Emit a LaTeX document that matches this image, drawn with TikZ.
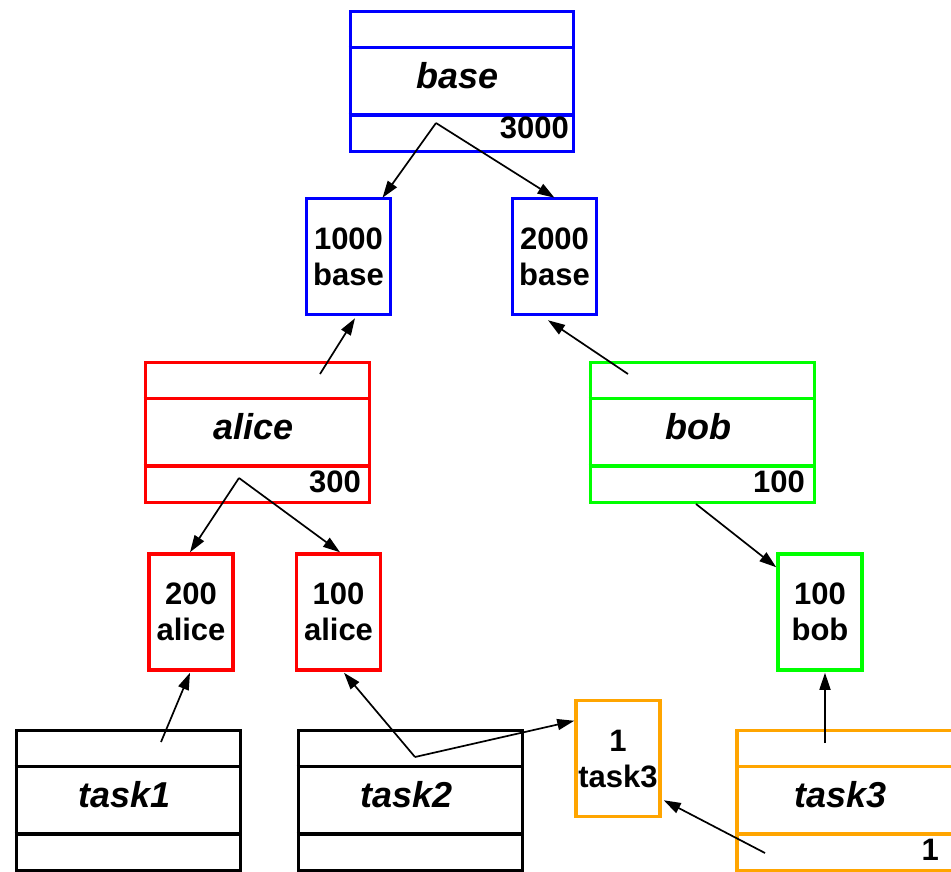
\documentclass[tikz,border=0pt]{standalone}
\usepackage{fontspec}
\setmainfont{Liberation Sans}
\usetikzlibrary{arrows.meta,calc}

\definecolor{cblue}{RGB}{0,0,255}
\definecolor{cred}{RGB}{255,0,0}
\definecolor{cgreen}{RGB}{0,255,0}
\definecolor{corange}{RGB}{255,165,0}

\tikzset{
  frame/.style={rectangle, draw, line width=3.5pt, inner sep=0pt,
    minimum height=140pt, anchor=north west},
  cell/.style={rectangle, draw, line width=3.5pt, inner sep=0pt,
    minimum width=84pt, minimum height=116pt, align=center,
    font=\fontsize{31}{36}\selectfont\bfseries},
  title/.style={inner sep=0pt, font=\fontsize{36}{40}\selectfont\bfseries\itshape},
  count/.style={inner sep=0pt, anchor=base east, font=\fontsize{31}{36}\selectfont\bfseries},
  ptr/.style={-{Triangle[length=17pt,width=11pt]}, line width=1.7pt},
}

% a three-part class box: name, colour, top-left corner, width, title
\newcommand\classbox[5]{%
  \node[frame, draw=#2, minimum width=#4] (#1) at (#3) {};
  \draw[#2, line width=3.5pt] ($(#1.north west)+(0,38)$) -- ($(#1.north east)+(0,38)$);
  \draw[#2, line width=3.5pt] ($(#1.south west)+(0,-38)$) -- ($(#1.south east)+(0,-38)$);
  \node[title] (#1-t) at ($(#1.center)+(-4,-6)$) {#5};
}

\begin{document}
\begin{tikzpicture}[x=1pt, y=-1pt]
  \useasboundingbox (0,0) rectangle (951,871);
  \fill[white] (0,0) rectangle (951,871);

  % class boxes
  \classbox{base}{cblue}{348.5,9.5}{223}{base}
  \classbox{alice}{cred}{143.5,360.5}{224}{alice}
  \classbox{bob}{cgreen}{588.5,360.5}{224}{bob}
  \classbox{task1}{black}{14.5,728.5}{224}{task1}
  \classbox{task2}{black}{296.5,728.5}{224}{task2}
  \classbox{task3}{corange}{735,728.5}{216}{task3}

  \node[count] (base-c) at (569,138) {3000};
  \node[count] (alice-c) at (361,492) {300};
  \node[count] (bob-c) at (805,492) {100};
  \node[count] (task3-c) at (939,860) {1};

  % counter cells
  \node[cell, draw=cblue] (b1000) at (348.5,256.5) {1000\\base};
  \node[cell, draw=cblue] (b2000) at (554.5,256.5) {2000\\base};
  \node[cell, draw=cred] (a200) at (191,612) {200\\alice};
  \node[cell, draw=cred] (a100) at (338.5,612) {100\\alice};
  \node[cell, draw=cgreen] (o100) at (820,612) {100\\bob};
  \node[cell, draw=corange] (t1) at (618,758.5) {1\\task3};

  % origins of the connectors
  \coordinate (base-o) at (436,123);
  \coordinate (alice-o) at (320,374);
  \coordinate (alice-s) at (239,478);
  \coordinate (bob-o) at (628,374);
  \coordinate (bob-s) at (696,504);
  \coordinate (task1-o) at (161,742);
  \coordinate (task2-o) at (415,757);
  \coordinate (task3-o) at (825,743);
  \coordinate (task3-s) at (765,853);

  % connectors
  \draw[ptr] (base-o) -- ([xshift=34pt,yshift=-1pt]b1000.north);
  \draw[ptr] (base-o) -- ([yshift=-1pt]b2000.north);
  \draw[ptr] (alice-o) -- ([xshift=6.5pt,yshift=-2pt]b1000.south);
  \draw[ptr] (bob-o) -- ([xshift=-6.5pt,yshift=-4pt]b2000.south);
  \draw[ptr] (alice-s) -- ([xshift=-1pt]a200.north);
  \draw[ptr] (alice-s) -- ([xshift=1.5pt]a100.north);
  \draw[ptr] (bob-s) -- ([yshift=-15pt]o100.north west);
  \draw[ptr] (task1-o) -- ([xshift=-1pt,yshift=-1pt]a200.south);
  \draw[ptr] (task2-o) -- ([xshift=5.5pt,yshift=-1pt]a100.south);
  \draw[ptr] (task2-o) -- ([yshift=-22pt]t1.north west);
  \draw[ptr] (task3-s) -- ([xshift=2pt,yshift=18pt]t1.south east);
  \draw[ptr] (task3-o) -- ([xshift=5pt,yshift=-1pt]o100.south);
\end{tikzpicture}
\end{document}
